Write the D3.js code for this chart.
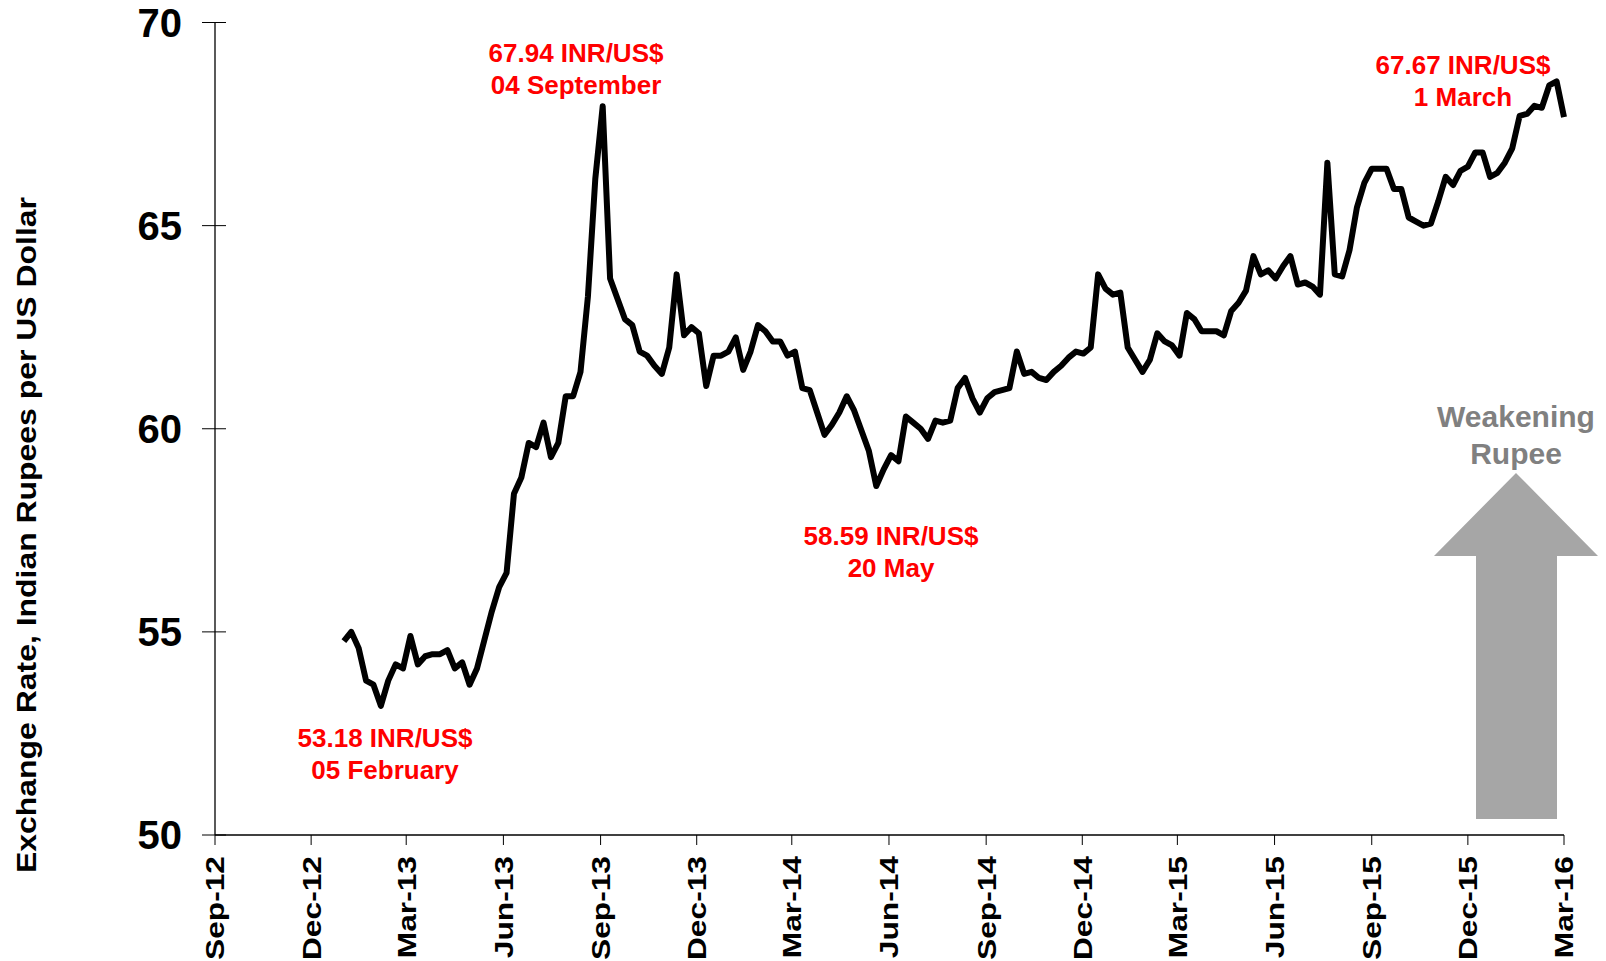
<!DOCTYPE html>
<html><head><meta charset="utf-8">
<script src="https://cdn.jsdelivr.net/npm/d3@7"></script>
<style>
html,body{margin:0;padding:0;background:#fff;}
svg{display:block;}
text{font-family:"Liberation Sans",Arial,sans-serif;font-weight:bold;}
</style></head>
<body>
<svg id="chart" width="1606" height="961"></svg>
<script>
// ---- data (weekly, Tuesdays, from 1 Jan 2013 to 1 Mar 2016) ----
const startDate = "2013-01-01";
const rates = [
 54.77,55.0,54.6,53.8,53.7,53.18,53.8,54.2,54.1,54.9,
 54.2,54.4,54.45,54.45,54.55,54.1,54.25,53.7,54.1,54.8,
 55.5,56.1,56.45,58.4,58.8,59.65,59.55,60.15,59.3,59.65,
 60.8,60.8,61.4,63.25,66.15,67.94,63.7,63.2,62.7,62.55,
 61.9,61.8,61.55,61.35,62.0,63.8,62.3,62.5,62.35,61.05,
 61.8,61.8,61.9,62.25,61.45,61.9,62.55,62.4,62.15,62.15,
 61.8,61.9,61.0,60.95,60.4,59.85,60.1,60.4,60.8,60.45,
 59.95,59.45,58.59,59.0,59.35,59.2,60.3,60.15,60.0,59.75,
 60.2,60.15,60.2,61.0,61.25,60.75,60.4,60.75,60.9,60.95,
 61.0,61.9,61.35,61.4,61.25,61.2,61.4,61.55,61.75,61.9,
 61.85,62.0,63.8,63.45,63.3,63.35,62.0,61.7,61.4,61.7,
 62.35,62.15,62.05,61.8,62.85,62.7,62.4,62.4,62.4,62.3,
 62.9,63.1,63.4,64.25,63.8,63.9,63.7,64.0,64.25,63.55,
 63.6,63.5,63.3,66.55,63.8,63.75,64.4,65.45,66.05,66.4,
 66.4,66.4,65.9,65.9,65.2,65.1,65.0,65.05,65.6,66.2,
 66.0,66.35,66.45,66.8,66.8,66.2,66.3,66.55,66.9,67.7,
 67.75,67.95,67.9,68.45,68.55,67.67
];
const xDomain = ["2012-09-01","2016-03-01"];
const xTickStepMonths = 3;
const yDomain = [50,70];
const yTicks = [50,55,60,65,70];
const yTitle = "Exchange Rate, Indian Rupees per US Dollar";
const annotations = [
 {lines:["67.94 INR/US$","04 September"], x:576, y:62},
 {lines:["53.18 INR/US$","05 February"], x:385, y:747},
 {lines:["58.59 INR/US$","20 May"], x:891, y:545},
 {lines:["67.67 INR/US$","1 March"], x:1463, y:74}
];
const arrowLabel = ["Weakening","Rupee"];

// ---- build ----
const parse = d3.utcParse("%Y-%m-%d");
const t0 = parse(startDate);
const series = rates.map((v,i)=>({date:d3.utcDay.offset(t0,7*i), value:v}));

const svg = d3.select("#chart");
const L=215, R=1564, T=22.5, B=835;
const x = d3.scaleUtc().domain(xDomain.map(parse)).range([L,R]);
const y = d3.scaleLinear().domain(yDomain).range([B,T]);

// y axis
const yAx = svg.append("g").attr("transform",`translate(${L},0)`);
yAx.append("line").attr("x1",0).attr("x2",0).attr("y1",T).attr("y2",B).attr("stroke","#000").attr("stroke-width",1.3);
yAx.selectAll("line.tk").data(yTicks).join("line").attr("class","tk")
  .attr("x1",-13).attr("x2",11).attr("y1",d=>y(d)).attr("y2",d=>y(d)).attr("stroke","#000").attr("stroke-width",1);
yAx.selectAll("text").data(yTicks).join("text")
  .attr("x",-33).attr("y",d=>y(d)).attr("dy","0.35em").attr("text-anchor","end")
  .attr("font-size",40).attr("fill","#000").text(d=>d);

// x axis
const xTicks = d3.utcMonth.range(parse(xDomain[0]), d3.utcDay.offset(parse(xDomain[1]),1), xTickStepMonths);
const fmt = d3.utcFormat("%b-%y");
const xAx = svg.append("g");
xAx.append("line").attr("x1",L).attr("x2",R).attr("y1",B).attr("y2",B).attr("stroke","#000").attr("stroke-width",1.3);
xAx.selectAll("line.tk").data(xTicks).join("line").attr("class","tk")
  .attr("x1",d=>x(d)).attr("x2",d=>x(d)).attr("y1",B).attr("y2",B+10).attr("stroke","#000").attr("stroke-width",1);
xAx.selectAll("text").data(xTicks).join("text")
  .attr("transform",d=>`translate(${x(d)},${B+21}) rotate(-90) scale(1.22,1)`)
  .attr("text-anchor","end").attr("dy","0.36em").attr("font-size",26).attr("fill","#000")
  .text(d=>fmt(d));

// y title
svg.append("text").attr("transform","translate(36,535) rotate(-90)")
  .attr("text-anchor","middle").attr("font-size",27)
  .attr("textLength",676).attr("lengthAdjust","spacingAndGlyphs")
  .attr("fill","#000").text(yTitle);

// arrow
const ax = 1516;
svg.append("path")
  .attr("d",`M${ax},473 L${ax+82},556 L${ax+41},556 L${ax+41},819 L${ax-40},819 L${ax-40},556 L${ax-82},556 Z`)
  .attr("fill","#a6a6a6");
svg.selectAll("text.arrowlab").data(arrowLabel).join("text").attr("class","arrowlab")
  .attr("x",ax).attr("y",(d,i)=>427+i*37).attr("text-anchor","middle")
  .attr("font-size",30).attr("fill","#808080").text(d=>d);

// line
svg.append("path").datum(series)
  .attr("d",d3.line().x(d=>x(d.date)).y(d=>y(d.value)))
  .attr("fill","none").attr("stroke","#000").attr("stroke-width",6)
  .attr("stroke-linejoin","round").attr("stroke-linecap","butt");

// annotations
annotations.forEach(a=>{
  svg.append("g").selectAll("text").data(a.lines).join("text")
    .attr("x",a.x).attr("y",(d,i)=>a.y+i*31.5).attr("text-anchor","middle")
    .attr("font-size",26).attr("fill","#ff0000").text(d=>d);
});
</script>
</body></html>
